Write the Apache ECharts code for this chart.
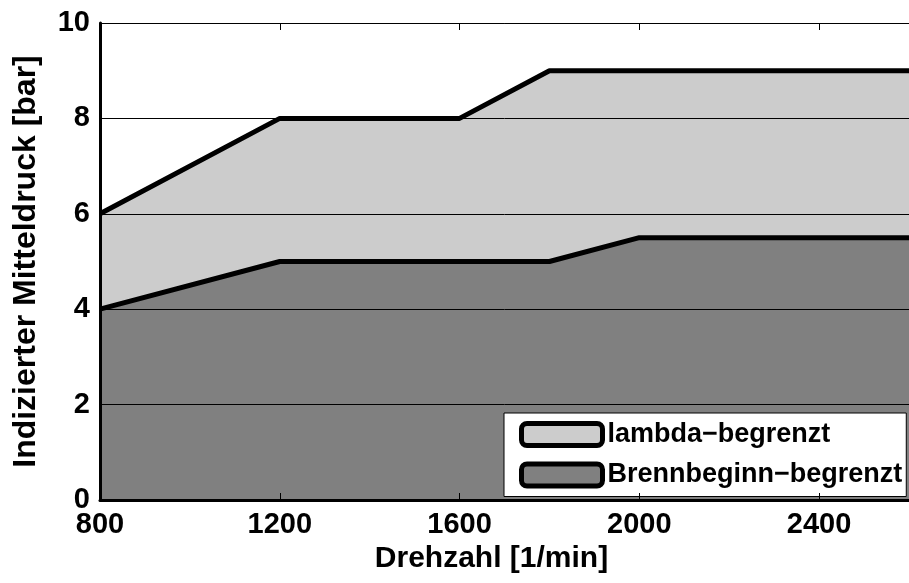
<!DOCTYPE html>
<html>
<head>
<meta charset="utf-8">
<script src="https://cdn.jsdelivr.net/npm/echarts@6/dist/echarts.min.js"></script>
<style>
  html, body { margin: 0; padding: 0; background: #fff; }
  #chart { width: 909px; height: 583px; }
</style>
</head>
<body>
<div id="chart"></div>
<script>
// Drehzahl [1/min] und Mitteldruck [bar] der Grenzkurven
const lambdaX = [800, 1200, 1600, 1800, 2600]
const lambdaY = [6, 8, 8, 9, 9]
const brennX = [800, 1200, 1800, 2000, 2600]
const brennY = [4, 5, 5, 5.5, 5.5]
const seriesNames = ['lambda\u2212begrenzt', 'Brennbeginn\u2212begrenzt']
const fillColors = ['#cccccc', '#808080']

const font = 'Liberation Sans, Arial, sans-serif'
const chart = echarts.init(document.getElementById('chart'), null, { renderer: 'canvas' })

const toPairs = (xs, ys) => xs.map((x, i) => [x, ys[i]])

const makeSeries = (name, data, color) => ({
  name: name,
  type: 'line',
  data: data,
  symbol: 'none',
  animation: false,
  itemStyle: { color: color },
  lineStyle: { color: '#000', width: 5 },
  areaStyle: { color: color, opacity: 1 }
})

const option = {
  backgroundColor: '#fff',
  animation: false,
  grid: { left: 100, top: 23, width: 820, height: 477 },
  legend: {
    orient: 'vertical',
    left: 504,
    top: 413,
    padding: [8, 4, 8, 15],
    itemWidth: 81,
    itemHeight: 22,
    itemGap: 13.5,
    icon: 'roundRect',
    backgroundColor: '#fff',
    borderColor: '#000',
    borderWidth: 1,
    textStyle: { fontFamily: font, fontWeight: 'bold', fontSize: 27, color: '#000' },
    data: seriesNames.map((n, i) => ({
      name: n,
      itemStyle: { color: fillColors[i], borderColor: '#000', borderWidth: 5 }
    }))
  },
  xAxis: [{
    type: 'value',
    position: 'bottom',
    min: 800,
    max: 2600,
    interval: 400,
    z: 10,
    name: 'Drehzahl [1/min]',
    nameLocation: 'middle',
    nameGap: 42,
    nameTextStyle: { fontFamily: font, fontWeight: 'bold', fontSize: 30, color: '#000', padding: [0, 26, 0, 0] },
    axisLine: { lineStyle: { color: '#000', width: 3 } },
    axisTick: { inside: true, length: 7, lineStyle: { color: '#000', width: 1 } },
    axisLabel: {
      margin: 10, fontFamily: font, fontWeight: 'bold', fontSize: 29, color: '#000', showMaxLabel: false,
      formatter: v => String(v)
    },
    splitLine: { show: false }
  }, {
    type: 'value',
    position: 'top',
    min: 800,
    max: 2600,
    interval: 400,
    z: 10,
    axisLine: { lineStyle: { color: '#000', width: 1 } },
    axisTick: { inside: true, length: 7, lineStyle: { color: '#000', width: 1 } },
    axisLabel: { show: false },
    splitLine: { show: false }
  }],
  yAxis: {
    type: 'value',
    min: 0,
    max: 10,
    interval: 2,
    z: 10,
    name: 'Indizierter Mitteldruck [bar]',
    nameLocation: 'middle',
    nameGap: 58,
    nameTextStyle: { fontFamily: font, fontWeight: 'bold', fontSize: 32, color: '#000' },
    axisLine: { show: true, lineStyle: { color: '#000', width: 3 } },
    axisTick: { show: true, inside: true, length: 7, lineStyle: { color: '#000', width: 1 } },
    axisLabel: { margin: 10, fontFamily: font, fontWeight: 'bold', fontSize: 29, color: '#000' },
    splitLine: { show: true, lineStyle: { color: '#000', width: 1 } }
  },
  series: [
    makeSeries(seriesNames[0], toPairs(lambdaX, lambdaY), fillColors[0]),
    makeSeries(seriesNames[1], toPairs(brennX, brennY), fillColors[1])
  ]
}

chart.setOption(option)
</script>
</body>
</html>
